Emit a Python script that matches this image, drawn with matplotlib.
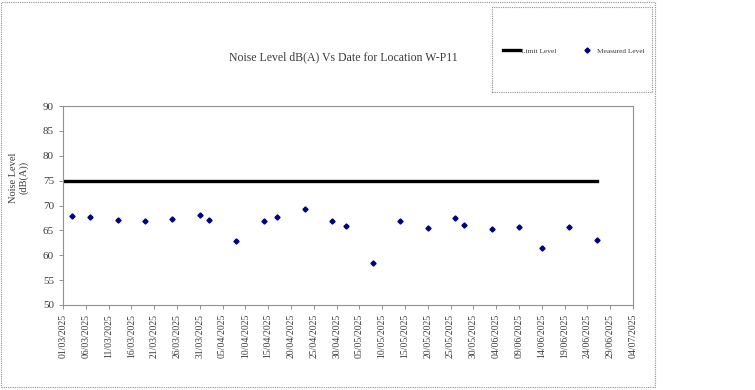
import datetime as dt
import matplotlib
matplotlib.use("Agg")
import matplotlib.pyplot as plt
import matplotlib.dates as mdates
from matplotlib.patches import Rectangle

# measured noise levels, dB(A)
dates = ["2025-03-03", "2025-03-07", "2025-03-13", "2025-03-19", "2025-03-25",
         "2025-03-31", "2025-04-02", "2025-04-08", "2025-04-14", "2025-04-17",
         "2025-04-23", "2025-04-29", "2025-05-02", "2025-05-08", "2025-05-14",
         "2025-05-20", "2025-05-26", "2025-05-28", "2025-06-03", "2025-06-09",
         "2025-06-14", "2025-06-20", "2025-06-26"]
measured = [67.8, 67.7, 67.1, 66.9, 67.3, 68.0, 67.1, 62.9, 66.9, 67.6,
            69.4, 66.8, 65.8, 58.5, 66.8, 65.5, 67.4, 66.1, 65.3, 65.6,
            61.4, 65.7, 63.1]
limit_dates = ["2025-03-01", "2025-06-26"]
limit_values = [75, 75]

x = [dt.datetime.strptime(d, "%Y-%m-%d") for d in dates]
xl = [dt.datetime.strptime(d, "%Y-%m-%d") for d in limit_dates]

plt.rcParams['font.family'] = ['Liberation Serif', 'DejaVu Serif']
txt = '#3a3a3a'

fig = plt.figure(figsize=(7.55, 3.9), dpi=100)
ax = fig.add_axes([0.0834, 0.218, 0.755, 0.510])

ax.plot(xl, limit_values, color='black', linewidth=2.4, label='Limit Level')
ax.plot(x, measured, linestyle='none', marker='D', markersize=2.6,
        color='#000080', label='Measured Level')

start = dt.datetime(2025, 3, 1)
ax.set_xlim(start, dt.datetime(2025, 7, 4))
ax.set_ylim(50, 90)
ax.set_yticks(range(50, 91, 5))
ticks = [start + dt.timedelta(days=5 * i) for i in range(26)]
ax.set_xticks(ticks)
ax.xaxis.set_major_formatter(mdates.DateFormatter('%d/%m/%Y'))
plt.setp(ax.get_xticklabels(), rotation=90, fontsize=7, color=txt)
plt.setp(ax.get_yticklabels(), fontsize=8, color=txt)
ax.tick_params(direction='out', length=3, width=0.6, color='#808080')
for s in ax.spines.values():
    s.set_color('#909090')
    s.set_linewidth(0.8)
    s.set_linestyle((0, (1, 1)))

fig.text(0.455, 0.853, 'Noise Level dB(A) Vs Date for Location W-P11',
         ha='center', va='center', fontsize=8.5, color=txt)
fig.text(0.025, 0.545, 'Noise Level\n(dB(A))', rotation=90, ha='center',
         va='center', fontsize=7.5, color=txt, linespacing=1.1)

# outer chart border and legend box
fig.patches.append(Rectangle((0.001, 0.008), 0.867, 0.986, transform=fig.transFigure,
                             fill=False, edgecolor='#909090', linewidth=0.8,
                             linestyle=(0, (1, 1))))
fig.patches.append(Rectangle((0.652, 0.764), 0.212, 0.218, transform=fig.transFigure,
                             fill=False, edgecolor='#909090', linewidth=0.8,
                             linestyle=(0, (1, 1))))
fig.legend(loc='center', bbox_to_anchor=(0.760, 0.870), ncol=2, frameon=False,
           fontsize=5.3, handlelength=2.4, handletextpad=0.1, columnspacing=3,
           labelcolor=txt)

fig.savefig('out.png', dpi=100)
